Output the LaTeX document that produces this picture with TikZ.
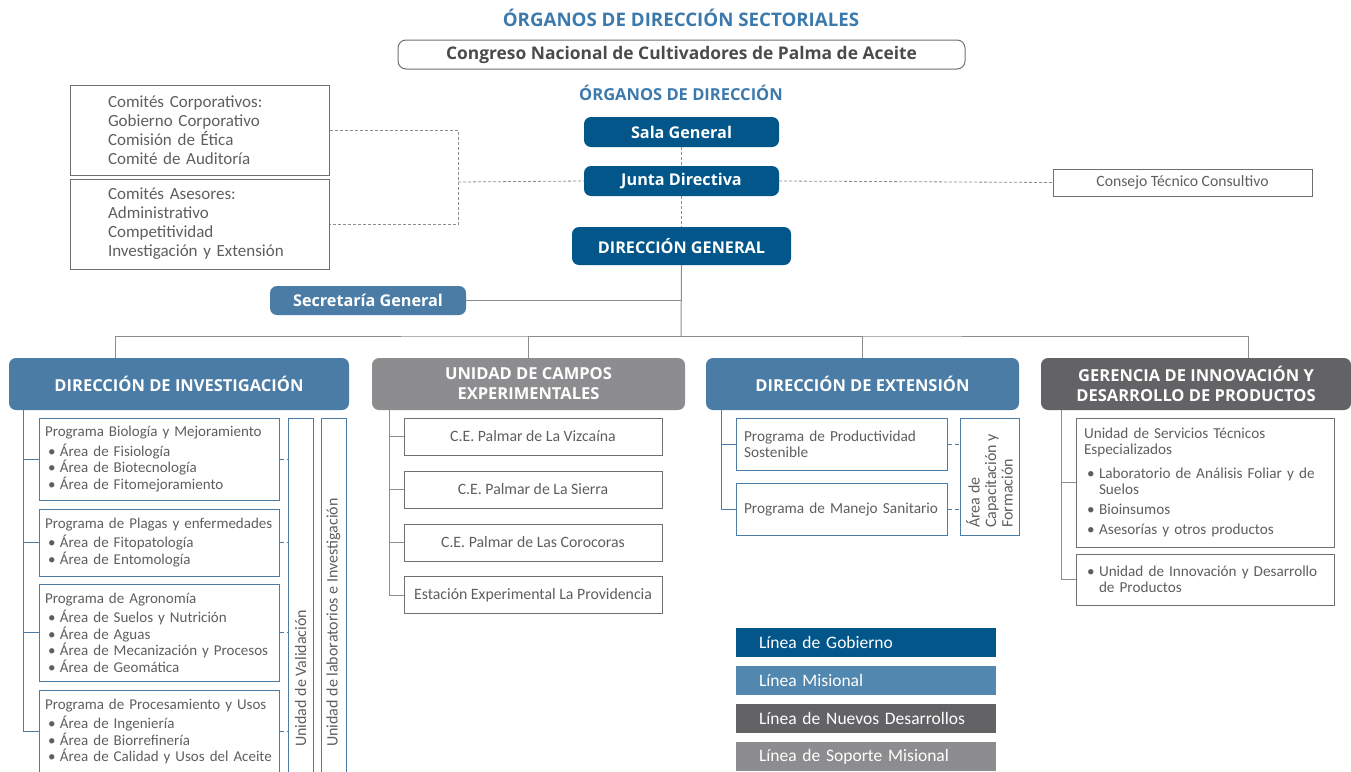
\documentclass[tikz,border=0pt]{standalone}
\usepackage{fontspec}
\setmainfont{Carlito}
\newfontfamily\headfont{Open Sans}
\usetikzlibrary{positioning}
\hyphenpenalty=10000
\exhyphenpenalty=10000

\definecolor{gobierno}{HTML}{02568A}
\definecolor{misional}{HTML}{4A7CA6}
\definecolor{misleg}{HTML}{5287AF}
\definecolor{nuevos}{HTML}{636366}
\definecolor{soporte}{HTML}{8D8D90}
\definecolor{titulo}{HTML}{3C7AAE}
\definecolor{texto}{HTML}{5E5E5E}
\definecolor{linea}{HTML}{8C8C8C}

\newcommand{\itm}{\hspace*{3pt}\makebox[12pt][l]{\textbullet}}
\newcommand{\sgl}{\hspace*{15pt}}

\tikzset{
  tittext/.style={text=titulo, font=\headfont\bfseries\fontsize{16.5}{18}\selectfont},
  govbox/.style={fill=gobierno, text=white, rounded corners=7pt, inner sep=0pt,
    font=\headfont\bfseries\fontsize{16.2}{18}\selectfont},
  headbox/.style={text=white, rounded corners=7pt, inner sep=0pt, align=center,
    minimum width=313pt, minimum height=52pt, font=\headfont\bfseries\fontsize{16.5}{20}\selectfont},
  combox/.style={draw=texto!90, line width=1pt, text=texto, align=left, text width=183pt,
    inner xsep=38pt, minimum height=90pt, font=\fontsize{17}{19}\selectfont},
  listbox/.style={draw=misional, line width=1pt, text=texto, align=left,
    inner xsep=6pt, font=\fontsize{15}{16.5}\selectfont},
  greybox/.style={draw=linea!80!black, line width=1pt, text=texto, align=left,
    inner xsep=8pt, font=\fontsize{15.2}{16.5}\selectfont},
  vbox/.style={draw=misional, line width=1pt, inner sep=0pt, minimum width=25pt},
  vtext/.style={text=texto, rotate=90, anchor=west, align=left, inner sep=0pt,
    font=\fontsize{16}{16.5}\selectfont},
  legbox/.style={text=white, minimum height=29pt, text width=214pt, inner xsep=23pt,
    inner ysep=0pt, align=left, font=\fontsize{17.5}{19}\selectfont},
  conn/.style={draw=linea, line width=1pt},
  blueconn/.style={draw=misional, line width=1pt},
  dashline/.style={draw=linea, line width=0.8pt, dash pattern=on 3pt off 2pt},
  bluedash/.style={draw=misional, line width=0.8pt, dash pattern=on 4pt off 3pt}
}

\begin{document}
\begin{tikzpicture}[x=1pt, y=-1pt]
    \useasboundingbox (0,0) rectangle (1351,771);

    % organos sectoriales
    \node[tittext, font=\headfont\bfseries\fontsize{18.7}{20}\selectfont] (sectoriales) at (681,18) {ÓRGANOS DE DIRECCIÓN SECTORIALES};
    \node[draw=linea!80!black, line width=1pt, rounded corners=8pt, minimum width=567pt, minimum height=29pt, inner sep=0pt,
          text=texto!80!black, font=\headfont\bfseries\fontsize{17.4}{19}\selectfont] (congreso) at (681.5,54.5) {Congreso Nacional de Cultivadores de Palma de Aceite};
    \node[tittext] (organos) at (681,93) {ÓRGANOS DE DIRECCIÓN};

    % organos de direccion
    \node[govbox, minimum width=195pt, minimum height=30pt] (sala) at (681.5,132) {Sala General};
    \node[govbox, minimum width=195pt, minimum height=30pt] (junta) at (681.5,181) {Junta Directiva};
    \node[govbox, minimum width=219pt, minimum height=38pt] (dg) at (681.5,246) {DIRECCIÓN GENERAL};
    \node[govbox, fill=misional, minimum width=196pt, minimum height=29pt] (secretaria) at (368,300.5) {Secretaría General};

    \node[combox] (corporativos) at (199.5,130) {Comités Corporativos:\\Gobierno Corporativo\\Comisión de Ética\\Comité de Auditoría};
    \node[combox] (asesores) at (199.5,224) {Comités Asesores:\\Administrativo\\Competitividad\\Investigación y Extensión};
    \node[draw=texto!90, line width=1pt, minimum width=259pt, minimum height=27pt, inner sep=0pt, text=texto,
          font=\fontsize{15.7}{16}\selectfont] (consejo) at (1182.5,182.5) {Consejo Técnico Consultivo};

    % dashed
    \coordinate (brk) at (458,182);
    \draw[dashline] (sala) -- (junta);
    \draw[dashline] (junta) -- (dg);
    \draw[dashline] (corporativos.east) -| (brk) |- (asesores.east);
    \draw[dashline] (brk) -- (junta.west);
    \draw[dashline] (junta.east) -- (consejo.west);

    % direcciones
    \node[headbox, fill=misional, minimum width=340pt] (inv) at (179,384) {DIRECCIÓN DE INVESTIGACIÓN};
    \node[headbox, fill=soporte] (campos) at (528.5,384) {UNIDAD DE CAMPOS\\EXPERIMENTALES};
    \node[headbox, fill=misional] (ext) at (862.5,384) {DIRECCIÓN DE EXTENSIÓN};
    \node[headbox, fill=nuevos, minimum width=310pt] (ger) at (1196,384) {GERENCIA DE INNOVACIÓN Y\\DESARROLLO DE PRODUCTOS};

    \coordinate (bus) at (681,336);
    \draw[conn] (dg.south) -- (bus);
    \draw[conn] (secretaria.east) -- (secretaria.east -| dg.south);
    \draw[conn] (inv.north -| 115,0) |- (bus) -| (ger.north -| 1248,0);
    \draw[conn] (bus) -| (campos.north);
    \draw[conn] (bus) -| (ext.north);

    % investigacion
    \node[listbox, text width=228pt, minimum height=82pt] (biologia) at (159,459) {Programa Biología y Mejoramiento\\[3pt]
        \itm Área de Fisiología\\\itm Área de Biotecnología\\\itm Área de Fitomejoramiento};
    \node[listbox, text width=228pt, minimum height=67pt] (plagas) at (159,542.5) {Programa de Plagas y enfermedades\\[3pt]
        \itm Área de Fitopatología\\\itm Área de Entomología};
    \node[listbox, text width=228pt, minimum height=97pt] (agronomia) at (159,632.5) {Programa de Agronomía\\[3pt]
        \itm Área de Suelos y Nutrición\\\itm Área de Aguas\\\itm Área de Mecanización y Procesos\\\itm Área de Geomática};
    \node[listbox, text width=228pt, minimum height=83pt] (procesamiento) at (159,731.5) {Programa de Procesamiento y Usos\\[3pt]
        \itm Área de Ingeniería\\\itm Área de Biorrefinería\\\itm Área de Calidad y Usos del Aceite};
    \node[vbox, minimum height=355pt] (validacion) at (300.5,595.5) {};
    \node[vbox, minimum height=355pt] (laboratorios) at (333.5,595.5) {};
    \node[vtext] (valtext) at (validacion.south |- 0,747) {Unidad de Validación};
    \node[vtext] (labtext) at (laboratorios.south |- 0,747) {Unidad de laboratorios e Investigación};

    \coordinate (invspine) at (23,410);
    \draw[blueconn] (invspine) |- (procesamiento.west);
    \foreach \p in {biologia, plagas, agronomia}
        \draw[blueconn] (\p.west -| invspine) -- (\p.west);
    \foreach \p in {biologia, plagas, agronomia, procesamiento}
        \draw[bluedash] (\p.east) -- (\p.east -| validacion.west);

    % campos experimentales
    \node[greybox, align=center, minimum width=258pt, minimum height=37pt, font=\fontsize{15.8}{17}\selectfont] (vizcaina) at (533,436.5) {C.E. Palmar de La Vizcaína};
    \node[greybox, align=center, minimum width=258pt, minimum height=37pt, font=\fontsize{15.8}{17}\selectfont] (sierra) at (533,489.5) {C.E. Palmar de La Sierra};
    \node[greybox, align=center, minimum width=258pt, minimum height=37pt, font=\fontsize{15.8}{17}\selectfont] (corocoras) at (533,542.5) {C.E. Palmar de Las Corocoras};
    \node[greybox, align=center, minimum width=258pt, minimum height=37pt, font=\fontsize{15.8}{17}\selectfont] (providencia) at (533,595) {Estación Experimental La Providencia};

    \coordinate (camspine) at (389,410);
    \draw[conn] (camspine) |- (providencia.west);
    \foreach \p in {vizcaina, sierra, corocoras}
        \draw[conn] (\p.west -| camspine) -- (\p.west);

    % extension
    \node[listbox, text width=203pt, inner xsep=4pt, minimum height=52pt, font=\fontsize{15.3}{16.5}\selectfont] (productividad) at (841.5,444) {\hspace*{4pt}Programa de Productividad\\\hspace*{4pt}Sostenible};
    \node[listbox, text width=203pt, inner xsep=4pt, minimum height=52pt, font=\fontsize{15.3}{16.5}\selectfont] (sanitario) at (841.5,509) {\hspace*{4pt}Programa de Manejo Sanitario};
    \node[vbox, minimum width=59pt, minimum height=117pt] (capacitacion) at (989.5,476.5) {};
    \node[vtext] (captext) at (capacitacion.south |- 0,528) {Área de\\Capacitación y\\Formación};

    \coordinate (extspine) at (721,410);
    \draw[blueconn] (extspine) |- (sanitario.west);
    \draw[blueconn] (productividad.west -| extspine) -- (productividad.west);
    \draw[bluedash] (productividad.east) -- (productividad.east -| capacitacion.west);
    \draw[bluedash] (sanitario.east) -- (sanitario.east -| capacitacion.west);

    % gerencia
    \node[greybox, text width=242pt, minimum height=129pt] (servicios) at (1205,482.5) {Unidad de Servicios Técnicos\\Especializados\\[7pt]
        \itm Laboratorio de Análisis Foliar y de\\\sgl Suelos\\[3.5pt]\itm Bioinsumos\\[3.5pt]\itm Asesorías y otros productos};
    \node[greybox, text width=242pt, minimum height=51pt] (innovacion) at (1205,579.5) {\itm Unidad de Innovación y Desarrollo\\\sgl de Productos};

    \coordinate (gerspine) at (1061,410);
    \draw[conn] (gerspine) |- (innovacion.west);
    \draw[conn] (servicios.west -| gerspine) -- (servicios.west);

    % leyenda
    \node[legbox, fill=gobierno] (lgobierno) at (866,642.5) {Línea de Gobierno};
    \node[legbox, fill=misleg] (lmisional) at (866,680.5) {Línea Misional};
    \node[legbox, fill=nuevos] (lnuevos) at (866,718.5) {Línea de Nuevos Desarrollos};
    \node[legbox, fill=soporte] (lsoporte) at (866,756.5) {Línea de Soporte Misional};
\end{tikzpicture}
\end{document}
